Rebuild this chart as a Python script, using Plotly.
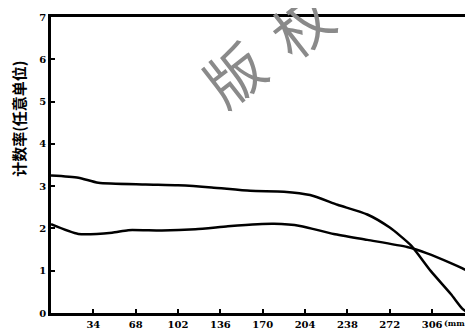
import plotly.graph_objects as go

# Data
x_upper = [0, 22, 38, 76, 102, 129, 160, 187, 208, 230, 254, 272, 289, 305, 321, 330, 334]
y_upper = [3.25, 3.20, 3.08, 3.04, 3.02, 2.97, 2.89, 2.87, 2.79, 2.56, 2.33, 2.02, 1.60, 0.99, 0.45, 0.11, 0.02]

x_lower = [0, 22, 49, 62, 89, 116, 142, 166, 179, 200, 227, 254, 286, 302, 321, 330, 334]
y_lower = [2.10, 1.87, 1.90, 1.96, 1.95, 1.98, 2.05, 2.10, 2.11, 2.06, 1.87, 1.73, 1.56, 1.41, 1.18, 1.06, 1.00]

x_ticks = [34, 68, 102, 136, 170, 204, 238, 272, 306]
y_ticks = [0, 1, 2, 3, 4, 5, 6, 7]
y_title = "计数率(任意单位)"
x_unit = "(mm"
watermark_chars = ["版", "权"]

fig = go.Figure()
for xs, ys in [(x_upper, y_upper), (x_lower, y_lower)]:
    fig.add_trace(go.Scatter(x=xs, y=ys, mode="lines",
                             line=dict(color="black", width=2.5, shape="spline", smoothing=0.6),
                             showlegend=False, hoverinfo="skip"))

tickfont = dict(family="DejaVu Serif", size=10, color="black", weight="bold")
# the page has an 8px body margin, so margins are shifted to land the plot where the reference has it
fig.update_layout(
    width=473, height=333,
    margin=dict(l=43, r=14, t=4, b=28),
    paper_bgcolor="white", plot_bgcolor="white",
    xaxis=dict(range=[0, 334], tickvals=x_ticks, ticktext=[str(v) for v in x_ticks],
               showgrid=False, zeroline=False, showline=True, linecolor="black", linewidth=2.5,
               mirror=True, ticks="inside", ticklen=4, tickcolor="black", tickwidth=1.5,
               tickfont=tickfont),
    yaxis=dict(range=[0, 7.001], tickvals=y_ticks, ticktext=[str(v) for v in y_ticks],
               showgrid=False, zeroline=False, showline=True, linecolor="black", linewidth=2.5,
               mirror=True, ticks="inside", ticklen=4, tickcolor="black", tickwidth=1.5,
               tickfont=tickfont),
)
fig.add_annotation(text=y_title, xref="paper", yref="paper", x=-0.08, y=0.655,
                   xanchor="center", yanchor="middle", textangle=-90, showarrow=False,
                   font=dict(family="Noto Sans CJK SC", size=15, color="black", weight="bold"))
fig.add_annotation(text=x_unit, xref="paper", yref="paper", x=0.94, y=-0.01,
                   xanchor="left", yanchor="top", showarrow=False,
                   font=dict(family="DejaVu Serif", size=8, color="black", weight="bold"))
for ch, px, py in zip(watermark_chars, [0.4375, 0.60], [0.81, 0.975]):
    fig.add_annotation(text=ch, xref="paper", yref="paper", x=px, y=py,
                       xanchor="center", yanchor="middle", textangle=-38, showarrow=False,
                       font=dict(family="Noto Sans CJK SC", size=58, color="#8a8a8a"))
fig.write_html("out.html")
